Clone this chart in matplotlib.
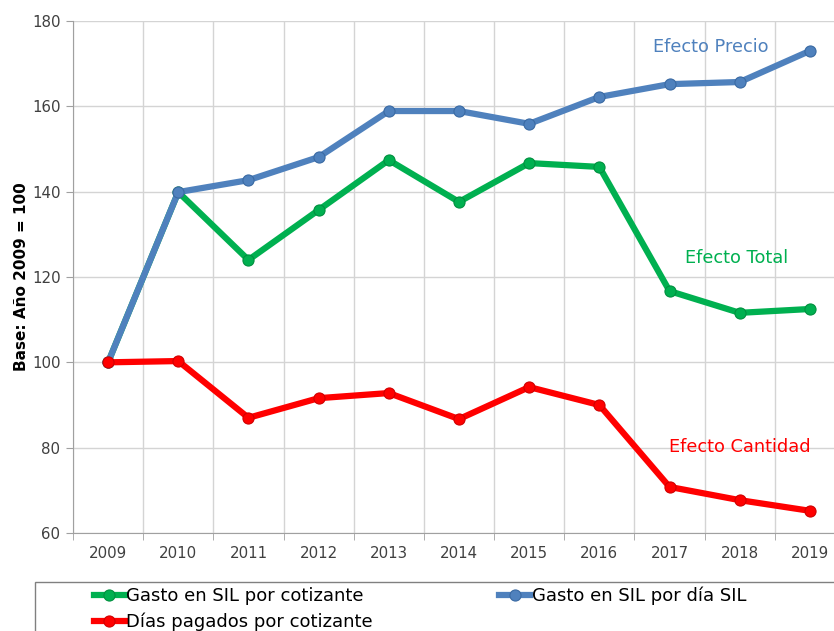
import matplotlib
matplotlib.use('Agg')
import matplotlib.pyplot as plt
from matplotlib.patches import Rectangle

years = ['2009', '2010', '2011', '2012', '2013', '2014',
         '2015', '2016', '2017', '2018', '2019']
gasto_cotizante = [100, 139.9, 124.0, 135.7, 147.4, 137.6,
                   146.7, 145.8, 116.7, 111.6, 112.5]
gasto_dia = [100, 139.9, 142.7, 148.1, 158.9, 158.9,
             155.9, 162.2, 165.2, 165.7, 173.0]
dias_cotizante = [100, 100.3, 87.0, 91.6, 92.8, 86.7,
                  94.2, 90.0, 70.8, 67.7, 65.2]

GREEN = '#00B050'
BLUE = '#4F81BD'
RED = '#FF0000'

fig = plt.figure(figsize=(8.34, 6.31), dpi=100)
ax = fig.add_axes([73 / 834, 1 - 533 / 631, 772 / 834, 512 / 631])

x = list(range(len(years)))
lg, = ax.plot(x, gasto_cotizante, color=GREEN, lw=4.5, marker='o', ms=8,
              mfc=GREEN, mec='#00903f', mew=0.8, zorder=3,
              label='Gasto en SIL por cotizante')
lb, = ax.plot(x, gasto_dia, color=BLUE, lw=4.5, marker='o', ms=8,
              mfc=BLUE, mec='#3a6aa3', mew=0.8, zorder=4,
              label='Gasto en SIL por día SIL')
lr, = ax.plot(x, dias_cotizante, color=RED, lw=4.5, marker='o', ms=8,
              mfc=RED, mec='#d00000', mew=0.8, zorder=5,
              label='Días pagados por cotizante')

ax.set_xlim(-0.5, 10.5)
ax.set_ylim(60, 180)
ax.set_yticks(range(60, 181, 20))
ax.set_xticks(x)
ax.set_xticklabels(years)
ax.set_xticks([i - 0.5 for i in range(12)], minor=True)
ax.tick_params(axis='x', which='major', length=0, pad=9,
               labelsize=10.8, labelcolor='#404040')
ax.tick_params(axis='x', which='minor', length=5, color='#a0a0a0')
ax.tick_params(axis='y', length=5, color='#a0a0a0', pad=4,
               labelsize=10.8, labelcolor='#404040')
ax.grid(True, axis='y', color='#d4d4d4', lw=1, zorder=0)
ax.grid(True, axis='x', which='minor', color='#d4d4d4', lw=1, zorder=0)
for s in ['top', 'right']:
    ax.spines[s].set_visible(False)
for s in ['left', 'bottom']:
    ax.spines[s].set_color('#a0a0a0')
ax.set_axisbelow(True)

ax.set_ylabel('Base: Año 2009 = 100', fontsize=11, fontweight='bold',
              color='black', labelpad=2)

ax.text(8.59, 173.9, 'Efecto Precio', color=BLUE, fontsize=12.8,
        ha='center', va='center')
ax.text(8.95, 124.5, 'Efecto Total', color=GREEN, fontsize=12.8,
        ha='center', va='center')
ax.text(9.0, 80.2, 'Efecto Cantidad', color=RED, fontsize=12.8,
        ha='center', va='center')

fig.patches.append(Rectangle((35 / 834, -0.1), 1.0, 0.1 + 1 - 582 / 631,
                             transform=fig.transFigure, fill=False,
                             edgecolor='#808080', lw=1))
fig.legend(handles=[lg, lr, lb], ncol=2, loc='upper left',
           bbox_to_anchor=(92 / 834, 1 - 585 / 631), frameon=False,
           fontsize=13, handlelength=1.7, handletextpad=0.1,
           columnspacing=7.0, labelspacing=0.4, borderpad=0.1,
           borderaxespad=0)

fig.savefig('out.png', dpi=100)
